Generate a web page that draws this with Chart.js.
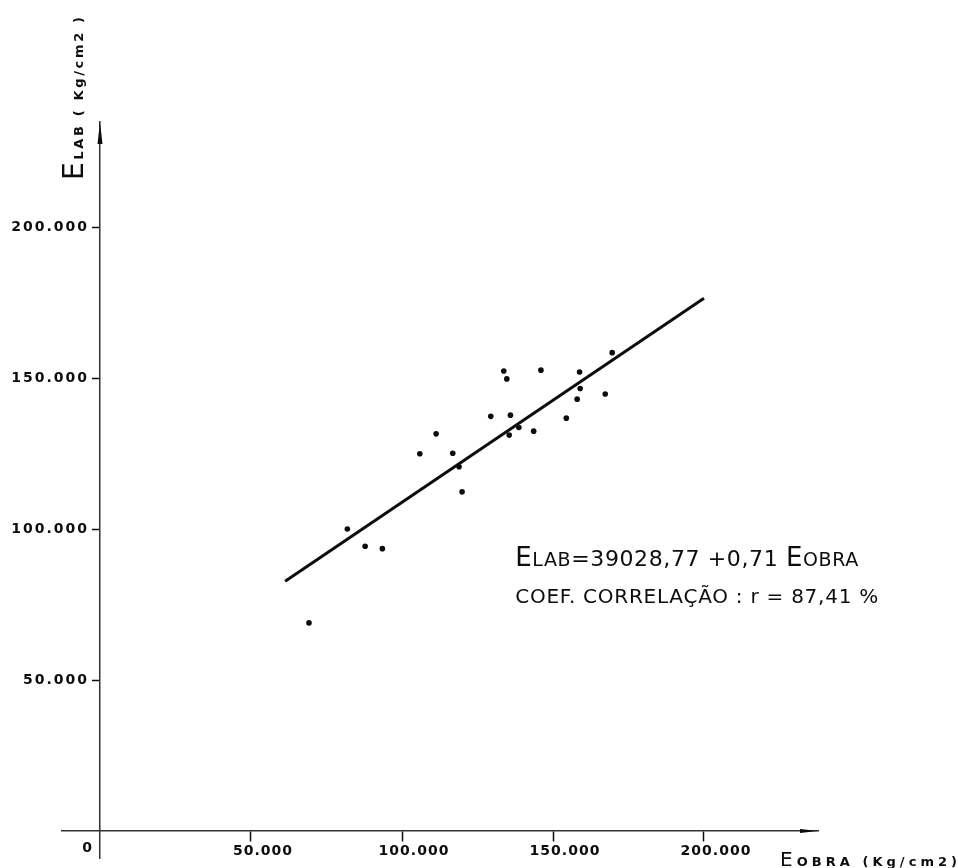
<!DOCTYPE html>
<html>
<head>
<meta charset="utf-8">
<title>E LAB x E OBRA</title>
<script src="https://cdn.jsdelivr.net/npm/chart.js@4.4.1/dist/chart.umd.min.js"></script>
<style>
    html, body { margin: 0; padding: 0; background: #fff; }
    canvas { display: block; }
</style>
</head>
<body>
<canvas id="chart" width="958" height="868"></canvas>
<script>
// E obra (x) and E lab (y) in kg/cm2
const eObra = [81900, 87800, 93500, 69200, 105900, 111300, 116800, 118900, 119900, 129400, 133700, 134700,
    135900, 138700, 135500, 143600, 146000, 154400, 158800, 159000, 158000, 167300, 169600];
const eLab = [100000, 94300, 93500, 68900, 124900, 131500, 125100, 120600, 112300, 137300, 152300, 149700,
    137700, 133600, 131100, 132400, 152600, 136700, 152000, 146500, 143000, 144700, 158400];

// regression line as it was drawn (its two ends)
const fitObra = [61300, 200000];
const fitLab = [82700, 176400];

const xTicks = [50000, 100000, 150000, 200000];
const yTicks = [50000, 100000, 150000, 200000];

const FONT = '"DejaVu Sans", sans-serif';
const INK = "#0d0d0d";

// page layout: origin of the axes at (100, 831), 151 px for every 50.000
const pad = { left: 62, right: 140, top: 122, bottom: 10 };
const origin = { x: 100, y: 831 };
const perPx = 50000 / 151;
const W = 958, H = 868;

function fmt(v) {
    return (v / 1000) + ".000";
}

function drawParts(ctx, parts, width) {
    let natural = 0;
    let count = 0;
    parts.forEach((p) => {
        ctx.font = p.font;
        ctx.letterSpacing = "0px";
        p.w = ctx.measureText(p.text).width;
        natural += p.w;
        count += p.text.length;
    });
    let spacing = 0;
    let sx = 1;
    if (width > natural && "letterSpacing" in ctx) spacing = (width - natural) / (count - 1);
    else sx = width / natural;
    ctx.scale(sx, 1);
    let cx = 0;
    parts.forEach((p) => {
        ctx.font = p.font;
        ctx.letterSpacing = spacing + "px";
        ctx.fillText(p.text, cx, 0);
        cx += p.w + spacing * p.text.length;
    });
}

// wider letter spacing on the tick labels, like the stencil lettering;
// the y labels also sit a few px away from their tick marks
const spacingPlugin = {
    id: "tickSpacing",
    beforeDraw(chart) {
        [["x", "1px", 0], ["y", "2px", -11]].forEach(([id, sp, dx]) => {
            const scale = chart.scales[id];
            if (!scale || scale._spaced) return;
            const orig = scale.drawLabels;
            scale.drawLabels = function (area) {
                const ctx = this.ctx;
                ctx.save();
                ctx.letterSpacing = sp;
                ctx.translate(dx, 0);
                orig.call(this, area);
                ctx.restore();
            };
            scale._spaced = true;
        });
    },
};

const extrasPlugin = {
    id: "extras",
    afterDraw(chart) {
        const { ctx, scales } = chart;
        const ox = scales.x.getPixelForValue(0);
        const oy = scales.y.getPixelForValue(0);
        const area = chart.chartArea;
        ctx.save();
        ctx.fillStyle = INK;

        // arrow heads
        ctx.beginPath();
        ctx.moveTo(ox, area.top);
        ctx.lineTo(ox - 2.5, area.top + 22);
        ctx.lineTo(ox + 2.5, area.top + 22);
        ctx.closePath();
        ctx.fill();
        ctx.beginPath();
        ctx.moveTo(area.right, oy);
        ctx.lineTo(area.right - 18, oy - 2);
        ctx.lineTo(area.right - 18, oy + 2);
        ctx.closePath();
        ctx.fill();

        // origin label
        ctx.font = "bold 14px " + FONT;
        ctx.textAlign = "center";
        ctx.textBaseline = "middle";
        ctx.fillText("0", ox - 13, oy + 17);
        ctx.textAlign = "left";
        ctx.textBaseline = "alphabetic";

        // y title, reading upwards
        ctx.save();
        ctx.translate(83, 180);
        ctx.rotate(-Math.PI / 2);
        drawParts(ctx, [
            { text: "E", font: "28px " + FONT },
            { text: "LAB ( Kg/cm2 )", font: "bold 13px " + FONT },
        ], 163);
        ctx.restore();

        // x title
        ctx.save();
        ctx.translate(780, 866);
        drawParts(ctx, [
            { text: "E", font: "20px " + FONT },
            { text: "OBRA (Kg/cm2)", font: "bold 13px " + FONT },
        ], 177);
        ctx.restore();

        // regression note
        const nx = scales.x.getPixelForValue(137500);
        ctx.save();
        ctx.translate(nx, scales.y.getPixelForValue(87750));
        drawParts(ctx, [
            { text: "E", font: "26px " + FONT },
            { text: "LAB", font: "19px " + FONT },
            { text: "=39028,77 +0,71 ", font: "22px " + FONT },
            { text: "E", font: "26px " + FONT },
            { text: "OBRA", font: "19px " + FONT },
        ], 343);
        ctx.restore();
        ctx.save();
        ctx.translate(nx, scales.y.getPixelForValue(75500));
        drawParts(ctx, [{ text: "COEF. CORRELAÇÃO : r = 87,41 %", font: "20px " + FONT }], 363);
        ctx.restore();

        ctx.restore();
    },
};

const points = eObra.map((x, i) => ({ x, y: eLab[i] }));
const fitLine = fitObra.map((x, i) => ({ x, y: fitLab[i] }));

new Chart(document.getElementById("chart"), {
    type: "scatter",
    data: {
        datasets: [
            {
                label: "E lab x E obra",
                data: points,
                pointRadius: 2.8,
                pointHoverRadius: 2.8,
                pointBackgroundColor: INK,
                pointBorderWidth: 0,
            },
            {
                type: "line",
                label: "regressão",
                data: fitLine,
                borderColor: INK,
                borderWidth: 3,
                pointRadius: 0,
                fill: false,
            },
        ],
    },
    options: {
        responsive: false,
        animation: false,
        events: [],
        layout: { padding: pad },
        plugins: {
            legend: { display: false },
            tooltip: { enabled: false },
        },
        scales: {
            x: {
                type: "linear",
                position: { y: 0 },
                min: -(origin.x - pad.left) * perPx,
                max: (W - pad.right - origin.x) * perPx,
                afterBuildTicks: (scale) => { scale.ticks = xTicks.map((value) => ({ value })); },
                ticks: {
                    callback: fmt,
                    color: INK,
                    font: { family: FONT, size: 14, weight: "bold" },
                    padding: 2,
                    labelOffset: 12,
                    maxRotation: 0,
                    autoSkip: false,
                },
                grid: { drawOnChartArea: false, drawTicks: true, tickLength: 10, tickColor: INK, tickWidth: 1.5 },
                border: { display: true, color: "#333", width: 1.5 },
            },
            y: {
                type: "linear",
                position: { x: 0 },
                min: -(H - pad.bottom - origin.y) * perPx,
                max: (origin.y - pad.top) * perPx,
                afterBuildTicks: (scale) => { scale.ticks = yTicks.map((value) => ({ value })); },
                ticks: {
                    callback: fmt,
                    color: INK,
                    font: { family: FONT, size: 14, weight: "bold" },
                    padding: 1,
                    autoSkip: false,
                },
                grid: { drawOnChartArea: false, drawTicks: true, tickLength: 7, tickColor: INK, tickWidth: 1.5 },
                border: { display: true, color: "#333", width: 1.5 },
            },
        },
    },
    plugins: [spacingPlugin, extrasPlugin],
});
</script>
</body>
</html>
